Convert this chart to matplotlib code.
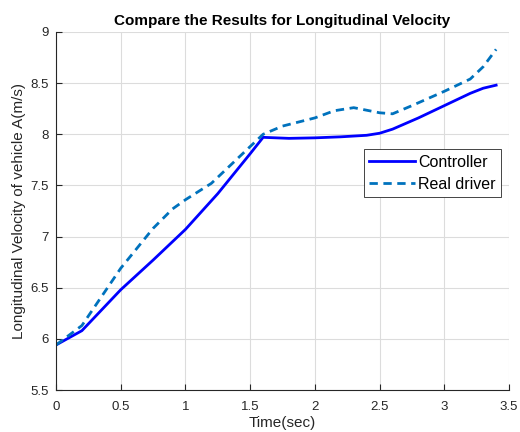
import numpy as np
import matplotlib.pyplot as plt

# Time samples (sec) and the two velocity traces (m/s)
t_ctrl = [0.0, 0.2, 0.5, 0.75, 1.0, 1.25, 1.5, 1.6, 1.8, 2.0, 2.2, 2.4, 2.5, 2.6, 2.8, 3.0, 3.2, 3.3, 3.4]
v_ctrl = [5.94, 6.08, 6.48, 6.77, 7.07, 7.42, 7.81, 7.97, 7.96, 7.965, 7.975, 7.99, 8.01, 8.05, 8.16, 8.28, 8.40, 8.45, 8.48]

t_real = [0.0, 0.2, 0.5, 0.75, 0.9, 1.0, 1.2, 1.4, 1.5, 1.6, 1.75, 2.0, 2.15, 2.3, 2.5, 2.6, 2.75, 3.0, 3.2, 3.3, 3.4]
v_real = [5.94, 6.13, 6.69, 7.08, 7.27, 7.36, 7.52, 7.76, 7.88, 8.0, 8.08, 8.16, 8.23, 8.26, 8.21, 8.20, 8.28, 8.42, 8.54, 8.66, 8.83]

plt.rcParams['font.family'] = ['Liberation Sans', 'DejaVu Sans']

fig = plt.figure(figsize=(5.2, 4.32), dpi=100)
ax = fig.add_axes([0.1077, 0.0972, 0.8713, 0.8288])

ax.plot(t_ctrl, v_ctrl, color='#0000FF', lw=2.0, label='Controller')
ax.plot(t_real, v_real, color='#0072BD', lw=2.0, ls=(0, (3, 2)), label='Real driver')

ax.set_xlim(0, 3.5)
ax.set_ylim(5.5, 9)
ax.set_xticks(np.arange(0, 3.51, 0.5))
ax.set_yticks(np.arange(5.5, 9.01, 0.5))
ax.set_xticklabels(['0', '0.5', '1', '1.5', '2', '2.5', '3', '3.5'])
ax.set_yticklabels(['5.5', '6', '6.5', '7', '7.5', '8', '8.5', '9'])

ax.grid(True, color='#dcdcdc', lw=0.8)
ax.set_axisbelow(True)
for s in ['top', 'right']:
    ax.spines[s].set_visible(False)
for s in ['left', 'bottom']:
    ax.spines[s].set_color('#262626')
    ax.spines[s].set_linewidth(0.8)
ax.tick_params(direction='in', length=4, width=0.8, colors='#262626', labelsize=9.5)
ax.tick_params(axis='x', pad=8)
ax.tick_params(axis='y', pad=5.5)

ax.set_title('Compare the Results for Longitudinal Velocity', fontsize=11, fontweight='bold', pad=5)
ax.set_xlabel('Time(sec)', fontsize=11, color='#262626', labelpad=2)
ax.set_ylabel('Longitudinal Velocity of vehicle A(m/s)', fontsize=11, color='#262626', labelpad=3)

leg = ax.legend(loc='upper right', bbox_to_anchor=(0.982, 0.673), fontsize=11.5, fancybox=False,
                framealpha=1, edgecolor='#262626', borderpad=0.35, handlelength=2.9,
                handletextpad=0.15, borderaxespad=0, labelspacing=0.45)
leg.get_frame().set_linewidth(0.6)

fig.savefig('out.png', dpi=100)
